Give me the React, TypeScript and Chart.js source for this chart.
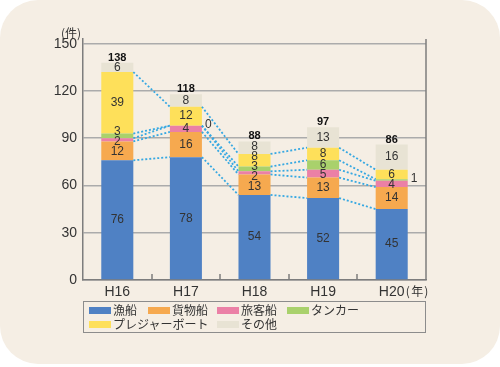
import React, { useEffect, useRef } from "react";
import { Chart, registerables } from "chart.js";

Chart.register(...registerables);

const categories = ["H16", "H17", "H18", "H19", "H20"];
const seriesNames = ["漁船", "貨物船", "旅客船", "タンカー", "プレジャーボート", "その他"];
const fishing = [76, 78, 54, 52, 45];
const cargo = [12, 16, 13, 13, 14];
const passenger = [2, 4, 2, 5, 4];
const tanker = [3, 0, 3, 6, 1];
const pleasure = [39, 12, 8, 8, 6];
const others = [6, 8, 8, 13, 16];
const totals = [138, 118, 88, 97, 86];
const yTicks = [0, 30, 60, 90, 120, 150];
const colors = ["#4f81c4", "#f6a94f", "#eb80a6", "#a9d16c", "#fee05a", "#e8e3d4"];
const seriesValues = [fishing, cargo, passenger, tanker, pleasure, others];

const FONT = "'Liberation Sans', Arial, sans-serif";
const CJK = "'Noto Sans CJK JP', 'Noto Sans', sans-serif";

const annotatePlugin = {
  id: "annotate",
  afterDatasetsDraw(chart: any) {
    const ctx = chart.ctx;
    const { right, top, bottom } = chart.chartArea;
    const xs = chart.scales.x;
    const n = categories.length;
    ctx.save();
    // right border
    ctx.strokeStyle = "#7d7d7d";
    ctx.lineWidth = 1.5;
    ctx.beginPath();
    ctx.moveTo(right, top);
    ctx.lineTo(right, bottom);
    ctx.stroke();
    // inner tick marks between categories
    for (let i = 1; i < n; i++) {
      const px = Math.round((xs.getPixelForValue(i - 1) + xs.getPixelForValue(i)) / 2);
      ctx.beginPath();
      ctx.moveTo(px, bottom);
      ctx.lineTo(px, bottom - 6);
      ctx.stroke();
    }
    const metas = chart.data.datasets.map((_: any, i: number) => chart.getDatasetMeta(i));
    const props = (k: number, i: number) =>
      metas[k].data[i].getProps(["x", "y", "width", "base"], true);
    // dotted connectors
    ctx.setLineDash([2, 2]);
    ctx.strokeStyle = "#36a8e2";
    ctx.lineWidth = 1.8;
    for (let k = 0; k < 5; k++) {
      for (let i = 0; i < n - 1; i++) {
        const a = props(k, i);
        const b = props(k, i + 1);
        ctx.beginPath();
        ctx.moveTo(a.x + a.width / 2, a.y);
        ctx.lineTo(b.x - b.width / 2, b.y);
        ctx.stroke();
      }
    }
    ctx.setLineDash([]);
    // segment labels
    for (let i = 0; i < n; i++) {
      ctx.fillStyle = "#333";
      ctx.font = `12px ${FONT}`;
      ctx.textBaseline = "middle";
      const inside: { y: number; t: string; x: number }[] = [];
      for (let k = 0; k < seriesValues.length; k++) {
        const v = seriesValues[k][i];
        const p = props(k, i);
        if (v <= 1) {
          ctx.textAlign = "left";
          ctx.fillText(String(v), p.x + p.width / 2 + 3, (p.y + p.base) / 2 - 1);
        } else {
          inside.push({ y: (p.y + p.base) / 2, t: String(v), x: p.x });
        }
      }
      inside.sort((a, b) => a.y - b.y);
      const G = 10;
      for (let it = 0; it < 60; it++) {
        for (let j = 0; j < inside.length - 1; j++) {
          const d = inside[j + 1].y - inside[j].y;
          if (d < G) {
            const s = (G - d) / 2;
            inside[j].y -= s;
            inside[j + 1].y += s;
          }
        }
      }
      ctx.textAlign = "center";
      for (const l of inside) ctx.fillText(l.t, l.x, l.y);
      // totals
      const topP = props(seriesValues.length - 1, i);
      ctx.font = `bold 11px ${FONT}`;
      ctx.textBaseline = "alphabetic";
      ctx.fillStyle = "#111";
      ctx.fillText(String(totals[i]), topP.x, topP.y - 2);
    }
    // unit labels
    ctx.font = `12px ${CJK}`;
    ctx.textBaseline = "middle";
    ctx.fillStyle = "#333";
    ctx.textAlign = "center";
    ctx.fillText("(件)", 71, 33);
    const lastX = xs.getPixelForValue(n - 1);
    ctx.fillText("(", lastX + 16, 291);
    ctx.fillText("年", lastX + 25.5, 291);
    ctx.fillText(")", lastX + 34.5, 291);
    ctx.restore();
  },
};

const legendCols = [5, 64, 133, 203];
const legendItems = [
  { k: 0, col: 0, row: 0 },
  { k: 1, col: 1, row: 0 },
  { k: 2, col: 2, row: 0 },
  { k: 3, col: 3, row: 0 },
  { k: 4, col: 0, row: 1 },
  { k: 5, col: 2, row: 1 },
];

export default function App() {
  const ref = useRef<HTMLCanvasElement | null>(null);
  useEffect(() => {
    if (!ref.current) return;
    const chart = new Chart(ref.current, {
      type: "bar",
      data: {
        labels: categories,
        datasets: seriesValues.map((vals, k) => ({
          label: seriesNames[k],
          data: vals,
          backgroundColor: colors[k],
          borderWidth: 0,
          barPercentage: 0.467,
          categoryPercentage: 1,
        })),
      },
      options: {
        animation: false,
        responsive: true,
        maintainAspectRatio: false,
        layout: { padding: { top: 39, right: 74, left: 0, bottom: 0 } },
        plugins: { legend: { display: false }, tooltip: { enabled: false } },
        scales: {
          x: {
            stacked: true,
            grid: { display: false, drawTicks: false },
            border: { display: true, color: "#7d7d7d", width: 1.5 },
            ticks: { font: { size: 14, family: FONT }, color: "#333", padding: 4 },
            afterFit: (s: any) => {
              s.height = 87;
            },
          },
          y: {
            stacked: true,
            min: 0,
            max: 153,
            afterBuildTicks: (s: any) => {
              s.ticks = yTicks.map((v) => ({ value: v }));
            },
            grid: { color: "#ababab", lineWidth: 1.5, drawTicks: false },
            border: { display: true, color: "#7d7d7d", width: 1.5 },
            ticks: { font: { size: 14, family: FONT }, color: "#333", padding: 6 },
            afterFit: (s: any) => {
              s.width = 83;
            },
          },
        },
      },
      plugins: [annotatePlugin],
    } as any);
    return () => chart.destroy();
  }, []);

  return (
    <div style={{ position: "absolute", left: 0, top: 0, width: 500, height: 367, background: "#fff" }}>
      <div
        style={{
          position: "absolute",
          left: 0,
          top: 0,
          width: 500,
          height: 364,
          background: "#f5eee4",
          borderRadius: 38,
        }}
      />
      <div style={{ position: "absolute", left: 0, top: 0, width: 500, height: 367 }}>
        <canvas ref={ref} />
      </div>
      <div
        style={{
          position: "absolute",
          left: 83,
          top: 301,
          width: 343,
          height: 32,
          boxSizing: "border-box",
          border: "1.5px solid #8c8c8c",
        }}
      >
        {legendItems.map((it) => (
          <div
            key={it.k}
            style={{
              position: "absolute",
              left: legendCols[it.col],
              top: it.row === 0 ? 1 : 15,
              height: 14,
              display: "flex",
              alignItems: "center",
              whiteSpace: "nowrap",
            }}
          >
            <span style={{ display: "inline-block", width: 22, height: 7, background: colors[it.k], marginRight: 2 }} />
            <span style={{ fontFamily: CJK, fontSize: 12, color: "#333", lineHeight: "14px" }}>{seriesNames[it.k]}</span>
          </div>
        ))}
      </div>
    </div>
  );
}
